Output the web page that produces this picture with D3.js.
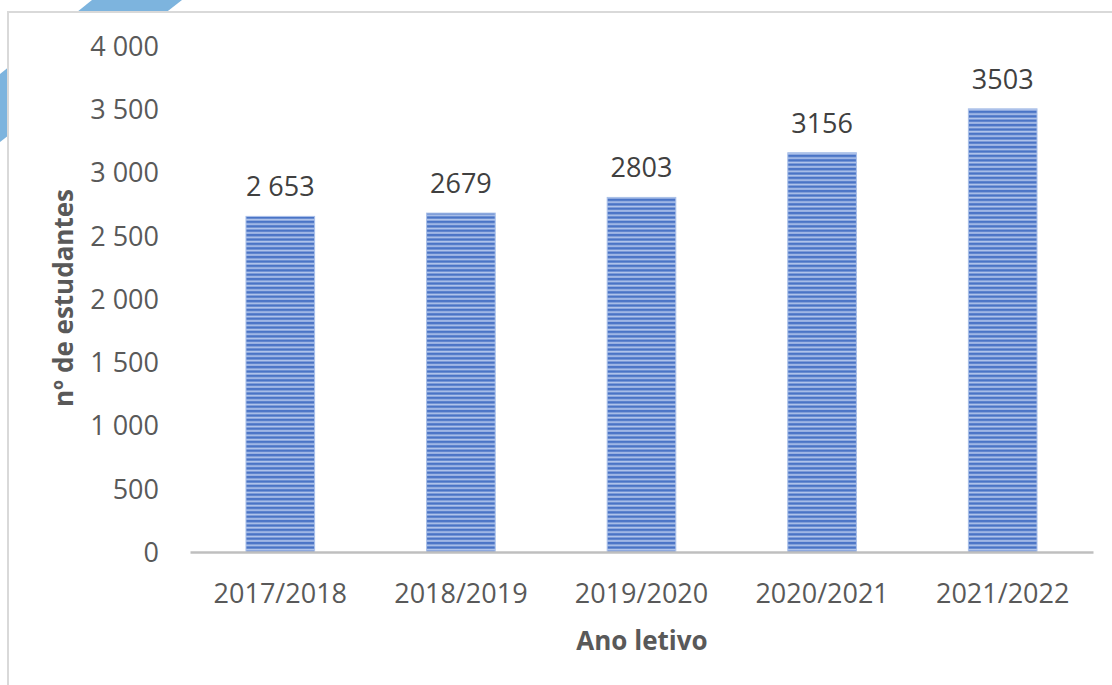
<!DOCTYPE html>
<html>
<head>
<meta charset="utf-8">
<script src="https://cdn.jsdelivr.net/npm/d3@7"></script>
<style>
  body { margin: 0; background: #fff; }
  svg text { font-family: "Open Sans", sans-serif; }
</style>
</head>
<body>
<div id="chart"></div>
<script>
var categories = ["2017/2018", "2018/2019", "2019/2020", "2020/2021", "2021/2022"];
var values = [2653, 2679, 2803, 3156, 3503];
var valueLabels = ["2 653", "2679", "2803", "3156", "3503"];
var yTicks = [0, 500, 1000, 1500, 2000, 2500, 3000, 3500, 4000];
var yTickLabels = ["0", "500", "1 000", "1 500", "2 000", "2 500", "3 000", "3 500", "4 000"];

var WIDTH = 1112, HEIGHT = 685;
var svg = d3.select("#chart").append("svg")
    .attr("width", WIDTH)
    .attr("height", HEIGHT);

// blue decorative band behind the frame
svg.append("path")
    .attr("d", "M92,0 L182,0 L0,142 L0,74 Z")
    .attr("fill", "#7db4de");

// chart frame
svg.append("rect")
    .attr("x", 8).attr("y", 12)
    .attr("width", WIDTH + 10).attr("height", HEIGHT + 10)
    .attr("fill", "#fff")
    .attr("stroke", "#d9d9d9")
    .attr("stroke-width", 2);

// stripe pattern for bars
var defs = svg.append("defs");
var pat = defs.append("pattern")
    .attr("id", "stripes")
    .attr("patternUnits", "userSpaceOnUse")
    .attr("width", 8).attr("height", 4.4);
pat.append("rect").attr("width", 8).attr("height", 4.4).attr("fill", "#b4c7ec");
pat.append("rect").attr("y", 0.6).attr("width", 8).attr("height", 2.6).attr("fill", "#4a74c6");

var x = d3.scaleBand()
    .domain(categories)
    .range([190, 1093])
    .paddingInner(0.62)
    .paddingOuter(0.31);

var y = d3.scaleLinear()
    .domain([0, 4000])
    .range([552, 46]);

// y tick labels
var yAxis = d3.axisLeft(y)
    .tickValues(yTicks)
    .tickFormat(function (d, i) { return yTickLabels[i]; })
    .tickSize(0)
    .tickPadding(0);
var gy = svg.append("g").attr("transform", "translate(159,0)").call(yAxis);
gy.select(".domain").remove();
gy.selectAll("text")
    .attr("font-size", 27)
    .attr("fill", "#595959")
    .attr("dy", "0.35em");

// bars
svg.append("g").selectAll("rect")
    .data(values)
    .enter().append("rect")
    .attr("x", function (d, i) { return x(categories[i]); })
    .attr("y", function (d) { return y(d); })
    .attr("width", x.bandwidth())
    .attr("height", function (d) { return y(0) - y(d); })
    .attr("fill", "url(#stripes)")
    .attr("stroke", "#a9bfe8")
    .attr("stroke-width", 1);

// x axis line and labels
var xAxis = d3.axisBottom(x).tickSize(0).tickPadding(0);
var gx = svg.append("g").attr("transform", "translate(0,552)").call(xAxis);
gx.select(".domain")
    .attr("stroke", "#bfbfbf")
    .attr("stroke-width", 2.5);
gx.selectAll("text")
    .attr("font-size", 27)
    .attr("fill", "#595959")
    .attr("dy", 0)
    .attr("y", 51);

// data labels
svg.append("g").selectAll("text")
    .data(values)
    .enter().append("text")
    .attr("x", function (d, i) { return x(categories[i]) + x.bandwidth() / 2; })
    .attr("y", function (d) { return y(d) - 20; })
    .attr("text-anchor", "middle")
    .attr("font-size", 27)
    .attr("fill", "#404040")
    .text(function (d, i) { return valueLabels[i]; });

// axis titles
svg.append("text")
    .attr("transform", "translate(73,298) rotate(-90)")
    .attr("text-anchor", "middle")
    .attr("font-size", 26)
    .attr("font-weight", "bold")
    .attr("fill", "#595959")
    .text("nº de estudantes");

svg.append("text")
    .attr("x", 642)
    .attr("y", 650)
    .attr("text-anchor", "middle")
    .attr("font-size", 26)
    .attr("font-weight", "bold")
    .attr("fill", "#595959")
    .text("Ano letivo");
</script>
</body>
</html>
